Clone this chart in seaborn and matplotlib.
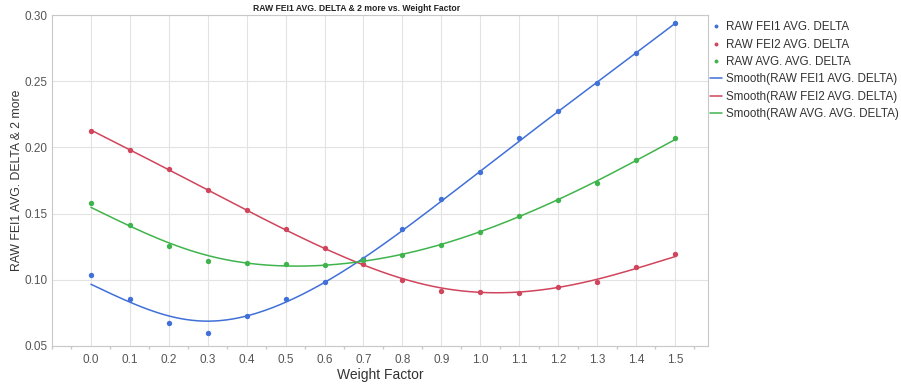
import matplotlib
matplotlib.use("Agg")
import matplotlib.pyplot as plt
import seaborn as sns
import numpy as np
import pandas as pd
from matplotlib.lines import Line2D
from matplotlib.ticker import MultipleLocator

weight_factor = [0.0, 0.1, 0.2, 0.3, 0.4, 0.5, 0.6, 0.7, 0.8, 0.9, 1.0, 1.1, 1.2, 1.3, 1.4, 1.5]
fei1 = [0.104, 0.0855, 0.067, 0.0597, 0.0726, 0.0855, 0.0985, 0.1155, 0.138, 0.1607,
        0.1813, 0.2071, 0.2272, 0.2483, 0.2712, 0.2937]
fei2 = [0.2127, 0.1983, 0.184, 0.1682, 0.1527, 0.138, 0.124, 0.1123, 0.0997, 0.0912,
        0.0909, 0.0899, 0.0942, 0.0987, 0.1097, 0.1195]
avg = [0.1582, 0.1416, 0.1258, 0.1142, 0.1125, 0.1117, 0.111, 0.1148, 0.119, 0.126,
       0.1364, 0.1484, 0.1605, 0.1733, 0.1906, 0.2071]

series_names = ["RAW FEI1 AVG. DELTA", "RAW FEI2 AVG. DELTA", "RAW AVG. AVG. DELTA"]
colors = ["#4070d8", "#d0455c", "#40b44c"]


def smoothing_spline(x, y, lam, step=0.005):
    """Penalised (cubic smoothing spline-like) fit evaluated on a fine grid."""
    x = np.asarray(x, float)
    y = np.asarray(y, float)
    grid = np.arange(x.min(), x.max() + step / 2, step)
    n = len(grid)
    idx = np.round((x - x.min()) / step).astype(int)
    w = np.zeros(n)
    yy = np.zeros(n)
    w[idx] = 1.0
    yy[idx] = y
    D = np.diff(np.eye(n), 2, axis=0)
    A = np.diag(w) + lam / step ** 3 * (D.T @ D)
    f = np.linalg.solve(A, w * yy)
    return grid, f


sns.set_theme(style="white")
plt.rcParams['font.family'] = ['Liberation Sans', 'DejaVu Sans']

fig = plt.figure(figsize=(9.01, 3.84), dpi=100)
ax = fig.add_axes([52/901, 1-346/384, (708-52)/901, (346-15)/384])

for name, vals, c in zip(series_names, [fei1, fei2, avg], colors):
    gx, gy = smoothing_spline(weight_factor, vals, lam=0.0025)
    sns.lineplot(x=gx, y=gy, ax=ax, color=c, lw=1.1, zorder=2)
    sns.scatterplot(x=weight_factor, y=vals, ax=ax, color=c, s=15, linewidth=0, zorder=3)

ax.set_xlim(-0.1, 1.585)
ax.set_ylim(0.05, 0.30)
ax.set_xticks(weight_factor)
ax.set_xticklabels([f"{v:.1f}" for v in weight_factor])
ax.xaxis.set_minor_locator(MultipleLocator(0.05))
ax.set_yticks([0.05, 0.10, 0.15, 0.20, 0.25, 0.30])
ax.set_yticklabels(["0.05", "0.10", "0.15", "0.20", "0.25", "0.30"])
ax.grid(True, which="major", color="#e3e3e3", lw=0.8)
ax.set_axisbelow(True)
for s in ax.spines.values():
    s.set_color("#c8c8c8")
    s.set_linewidth(0.8)
ax.tick_params(axis="x", which="major", labelsize=8.5, labelcolor="#555555",
               length=0, pad=6)
ax.tick_params(axis="y", which="major", labelsize=8.5, labelcolor="#555555",
               length=0, pad=3)
ax.tick_params(axis="x", which="minor", bottom=True, length=2, color="#c8c8c8")
ax.set_xlabel("Weight Factor", fontsize=10, color="#333333", labelpad=1)
ax.set_ylabel("RAW FEI1 AVG. DELTA & 2 more", fontsize=8.8, color="#333333", labelpad=1)
fig.text(357/901, 1-8.5/384, "RAW FEI1 AVG. DELTA & 2 more vs. Weight Factor",
         fontsize=6.2, fontweight="bold", color="#222222", ha="center", va="center")

handles = []
labels = []
for name, c in zip(series_names, colors):
    handles.append(Line2D([], [], ls="none", marker="o", ms=1.8, color=c))
    labels.append(name)
for name, c in zip(series_names, colors):
    handles.append(Line2D([], [], lw=1.1, color=c))
    labels.append(f"Smooth({name})")
leg = fig.legend(handles, labels, loc="upper left", bbox_to_anchor=(708/901, 1-19/384),
                 frameon=False, fontsize=8.4, handlelength=1.0, handletextpad=0.3,
                 labelspacing=0.46, borderaxespad=0, borderpad=0.2)
for t in leg.get_texts():
    t.set_color("#333333")

fig.savefig("out.png", dpi=100)
